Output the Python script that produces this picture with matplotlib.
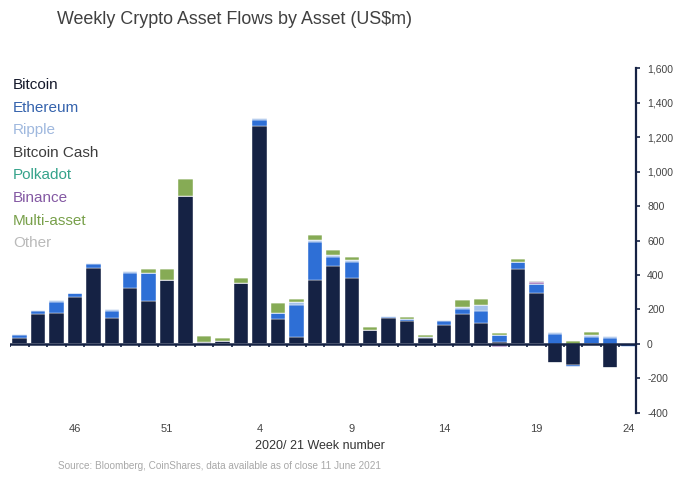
import numpy as np
import matplotlib
matplotlib.use("Agg")
import matplotlib.pyplot as plt

plt.rcParams['font.family'] = ['Liberation Sans', 'DejaVu Sans']

weeks = [43, 44, 45, 46, 47, 48, 49, 50, 51, 52,
         1, 2, 3, 4, 5, 6, 7, 8, 9, 10, 11, 12, 13, 14, 15, 16, 17, 18, 19, 20, 21, 22, 23, 24]

bitcoin = [35, 173, 177, 270, 443, 150, 327, 250, 370, 857,
           13, 18, 351, 1266, 144, 38, 370, 453, 385, 81, 150, 135, 35, 108, 173, 121,
           13, 435, 295, -110, -123, 0, -139, 0]
ethereum = [15, 20, 68, 23, 23, 43, 83, 160, 0, 0,
            0, 0, 4, 35, 33, 190, 221, 54, 93, 0, 8, 8, 8, 27, 31, 68,
            37, 39, 52, 58, -12, 41, 35, -15]
ripple = [6, 5, 10, 5, 6, 9, 14, 0, 0, 0,
          0, 0, 0, 12, 5, 18, 12, 7, 8, 0, 4, 0, 0, 7, 8, 35,
          0, 0, 0, 9, 0, 14, 13, 0]
bitcoin_cash = [0] * 34
polkadot = [0] * 34
binance = [0, 0, 0, 0, 0, 0, 0, 0, 0, 0,
           0, 0, 0, 0, 0, 0, 0, 0, 0, 0, 0, 0, 0, 0, 0, 0,
           -19, 0, 10, 0, 0, 0, 0, 0]
multi_asset = [0, 0, 0, 0, 0, 0, 0, 23, 67, 97,
               31, 15, 25, 0, 55, 12, 27, 31, 20, 15, 0, 11, 11, 0, 44, 36,
               14, 19, 0, 0, 19, 15, 0, 0]
other = [0, 0, 0, 0, 0, 0, 0, 0, 0, 0,
         0, 0, 0, 0, 0, 0, 0, 0, 0, 0, 0, 0, 0, 0, 0, 0,
         0, 0, 9, 0, 0, 0, 0, -4]

series_names = ["Bitcoin", "Ethereum", "Ripple", "Bitcoin Cash", "Polkadot",
                "Binance", "Multi-asset", "Other"]
series_values = [bitcoin, ethereum, ripple, bitcoin_cash, polkadot,
                 binance, multi_asset, other]
bar_colors = ["#152244", "#2e6fd6", "#a3c0ea", "#555555", "#3bb39b",
              "#9b6bb3", "#86ab55", "#c4c4c4"]
text_colors = ["#14182a", "#3563ad", "#9fb8de", "#3d3d3d", "#35a38b",
               "#8459a3", "#78a04a", "#bababa"]

label_weeks = [46, 51, 4, 9, 14, 19, 24]
y_ticks = [-400, -200, 0, 200, 400, 600, 800, 1000, 1200, 1400, 1600]

navy = "#152244"

fig = plt.figure(figsize=(6.88, 4.8), dpi=100)
fig.patch.set_facecolor("white")
ax = fig.add_axes([0.0149, 0.1396, 0.9244 - 0.0149, 0.8583 - 0.1396])

x = np.arange(len(weeks))
pos_bottom = np.zeros(len(weeks))
neg_bottom = np.zeros(len(weeks))
for vals, col in zip(series_values, bar_colors):
    v = np.array(vals, dtype=float)
    pos = np.where(v > 0, v, 0)
    neg = np.where(v < 0, v, 0)
    ax.bar(x, pos, bottom=pos_bottom, width=0.78, color=col,
           edgecolor="white", linewidth=0.3, zorder=2)
    ax.bar(x, neg, bottom=neg_bottom, width=0.78, color=col,
           edgecolor="white", linewidth=0.3, zorder=2)
    pos_bottom += pos
    neg_bottom += neg

ax.set_xlim(-0.5, len(weeks) - 1 + 0.4)
ax.set_ylim(-400, 1600)

ax.axhline(0, color=navy, lw=1.8, zorder=3)
ax.vlines(np.arange(len(weeks) + 1) - 0.5, -18, 0, color=navy, lw=1.2, zorder=3)

for s in ["left", "top", "bottom"]:
    ax.spines[s].set_visible(False)
ax.spines["right"].set_color(navy)
ax.spines["right"].set_linewidth(1.6)

ax.yaxis.tick_right()
ax.set_yticks(y_ticks)
ax.set_yticklabels([f"{t:,}" for t in y_ticks])
ax.tick_params(axis="y", direction="out", length=3, width=1.2, color=navy,
               labelsize=7.5, labelcolor="#444444", pad=5)

ax.set_xticks([weeks.index(w) for w in label_weeks])
ax.set_xticklabels([str(w) for w in label_weeks])
ax.tick_params(axis="x", length=0, labelsize=8, labelcolor="#444444", pad=8)

fig.text(0.4655, 1 - 446 / 480, "2020/ 21 Week number", ha="center", va="center",
         fontsize=9, color="#333333")
fig.text(58 / 688, 1 - 466 / 480,
         "Source: Bloomberg, CoinShares, data available as of close 11 June 2021",
         ha="left", va="center", fontsize=7.2, color="#a8a8a8")
fig.text(57 / 688, 1 - 20 / 480, "Weekly Crypto Asset Flows by Asset (US$m)",
         ha="left", va="center", fontsize=12.9, color="#404040")

for i, (name, tc) in enumerate(zip(series_names, text_colors)):
    fig.text(13 / 688, 1 - (85 + i * 22.6) / 480, name, ha="left", va="center",
             fontsize=11, color=tc)

fig.savefig("out.png", dpi=100, facecolor="white")
